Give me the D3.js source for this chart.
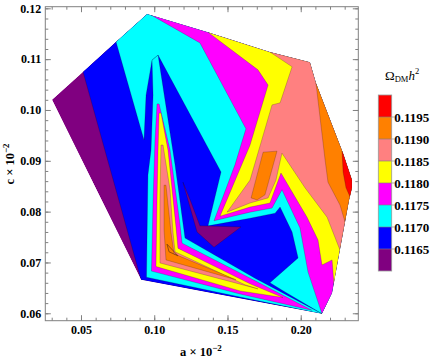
<!DOCTYPE html>
<html><head><meta charset="utf-8">
<script src="https://cdn.jsdelivr.net/npm/d3@7"></script>
<style>body{margin:0;background:#fff}svg{display:block}</style>
</head><body>
<svg id="c" width="437" height="362"></svg>
<script>
// ---- data (a, c) ----
const levels = [0.1165,0.1170,0.1175,0.1180,0.1185,0.1190,0.1195];
const levelLabels = ["0.1165","0.1170","0.1175","0.1180","0.1185","0.1190","0.1195"];
const xTicks = [0.05,0.10,0.15,0.20];
const yTicks = [0.06,0.07,0.08,0.09,0.10,0.11,0.12];

const hullRegion = [[0.0302,0.1020],[0.0514,0.1075],[0.0739,0.1134],[0.0951,0.1189],[0.1367,0.1153],[0.1790,0.1114],[0.2063,0.1094],[0.2104,0.1053],[0.2289,0.0915],[0.2350,0.0862],[0.2350,0.0847],[0.2330,0.0823],[0.2255,0.0705],[0.2214,0.0640],[0.2145,0.0599],[0.0910,0.0666]];
const regionBlue = [[0.0514,0.1075],[0.0739,0.1134],[0.0951,0.1189],[0.1367,0.1153],[0.1790,0.1114],[0.2063,0.1094],[0.2104,0.1053],[0.2289,0.0915],[0.2350,0.0862],[0.2350,0.0847],[0.2330,0.0823],[0.2255,0.0705],[0.2214,0.0640],[0.2145,0.0599],[0.0910,0.0666]];
const cyanRight = [[0.0739,0.1134],[0.0951,0.1189],[0.1367,0.1153],[0.1790,0.1114],[0.2063,0.1094],[0.2104,0.1053],[0.2289,0.0915],[0.2350,0.0862],[0.2350,0.0847],[0.2330,0.0823],[0.2255,0.0705],[0.2214,0.0640],[0.2145,0.0599],[0.1893,0.0642],[0.1790,0.0660],[0.1982,0.0709],[0.1941,0.0760],[0.1859,0.0809],[0.1825,0.0797],[0.1654,0.0787],[0.1367,0.0772],[0.1456,0.0878],[0.1026,0.1108],[0.0985,0.1098],[0.0944,0.1029],[0.0930,0.0941]];
const magentaRight = [[0.0978,0.1187],[0.1367,0.1153],[0.1790,0.1114],[0.2063,0.1094],[0.2104,0.1053],[0.2289,0.0915],[0.2350,0.0862],[0.2350,0.0847],[0.2330,0.0823],[0.2255,0.0705],[0.2214,0.0640],[0.2145,0.0599],[0.2050,0.0681],[0.1995,0.0768],[0.1872,0.0843],[0.1804,0.0807],[0.1654,0.0799],[0.1408,0.0782],[0.1551,0.0892],[0.1626,0.0963],[0.1312,0.1132]];
const yellowRight = [[0.1367,0.1153],[0.1790,0.1114],[0.2063,0.1094],[0.2104,0.1053],[0.2289,0.0915],[0.2350,0.0862],[0.2350,0.0847],[0.2330,0.0823],[0.2255,0.0705],[0.2227,0.0656],[0.2214,0.0705],[0.2145,0.0695],[0.2118,0.0744],[0.2043,0.0789],[0.1865,0.0876],[0.1790,0.0817],[0.1654,0.0809],[0.1449,0.0791],[0.1654,0.0931],[0.1777,0.1049],[0.1708,0.1079]];
const pinkRight = [[0.1790,0.1114],[0.2063,0.1094],[0.2104,0.1053],[0.2289,0.0915],[0.2350,0.0862],[0.2350,0.0847],[0.2330,0.0823],[0.2267,0.0725],[0.2180,0.0789],[0.2029,0.0847],[0.1872,0.0915],[0.1831,0.0862],[0.1777,0.0827],[0.1654,0.0817],[0.1497,0.0799],[0.1654,0.0862],[0.1804,0.1010],[0.1859,0.1014],[0.1941,0.1085]];
const orangeRight = [[0.2104,0.1053],[0.2289,0.0915],[0.2350,0.0862],[0.2350,0.0847],[0.2330,0.0823],[0.2302,0.0780],[0.2268,0.0813],[0.2186,0.0858],[0.2166,0.0902]];
const redRight = [[0.2282,0.0919],[0.2289,0.0915],[0.2350,0.0862],[0.2350,0.0847],[0.2337,0.0829],[0.2309,0.0847],[0.2289,0.0878]];
const orangeSpike = [[0.1743,0.0917],[0.1838,0.0919],[0.1756,0.0833],[0.1702,0.0823],[0.1661,0.0827]];
const purpleSpot = [[0.1196,0.0858],[0.1251,0.0819],[0.1312,0.0772],[0.1592,0.0770],[0.1408,0.0730],[0.1292,0.0760]];
const cyanLeft = [[0.0985,0.1098],[0.1026,0.1108],[0.1142,0.0892],[0.1210,0.0748],[0.1688,0.0669],[0.2145,0.0599],[0.1586,0.0632],[0.0947,0.0671],[0.0957,0.0872],[0.0978,0.0921],[0.0992,0.1029]];
const magentaLeft = [[0.1019,0.1012],[0.1033,0.1012],[0.1108,0.0921],[0.1176,0.0774],[0.1190,0.0738],[0.1688,0.0664],[0.2075,0.0606],[0.1586,0.0638],[0.0981,0.0683],[0.0992,0.0823],[0.1005,0.0941]];
const yellowLeft = [[0.1033,0.0994],[0.1046,0.0994],[0.1094,0.0921],[0.1149,0.0768],[0.1162,0.0728],[0.1654,0.0658],[0.1879,0.0631],[0.1586,0.0644],[0.1012,0.0692],[0.1019,0.0823],[0.1026,0.0921]];
const pinkLeft = [[0.1046,0.0931],[0.1060,0.0931],[0.1108,0.0843],[0.1128,0.0760],[0.1142,0.0721],[0.1620,0.0656],[0.1708,0.0648],[0.1039,0.0699],[0.1039,0.0823]];
const orangeLeft = [[0.1067,0.0852],[0.1080,0.0852],[0.1114,0.0760],[0.1135,0.0717],[0.1558,0.0666],[0.1080,0.0705],[0.1067,0.0764]];
const innerCore = [[0.1087,0.0736],[0.1101,0.0721],[0.1162,0.0713]];

// band index: 0 <0.1165 ... 7 >=0.1195
const bandColors = ["#800080","#0000ff","#00ffff","#ff00ff","#ffff00","#ff8080","#ff8000","#ff0000"];
const layers = [
  [hullRegion,0],[regionBlue,1],[cyanRight,2],[magentaRight,3],[yellowRight,4],[pinkRight,5],
  [orangeRight,6],[redRight,7],[orangeSpike,6],[purpleSpot,0],
  [cyanLeft,2],[magentaLeft,3],[yellowLeft,4],[pinkLeft,5],[orangeLeft,6]
];

// ---- drawing ----
const svg = d3.select("#c");
const x = d3.scaleLinear().domain([0.02563,0.2393]).range([45.3,358.3]);
const y = d3.scaleLinear().domain([0.05854,0.12032]).range([320.7,6.7]);
const closed = d3.line().x(d=>x(d[0])).y(d=>y(d[1])).curve(d3.curveLinearClosed);
const serif = "'Liberation Serif','Times New Roman',Times,serif";

svg.append("clipPath").attr("id","hclip").append("path").attr("d",closed(hullRegion));
const gp = svg.append("g").attr("clip-path","url(#hclip)");
layers.forEach(([poly,b],i)=>{
  gp.append("path").attr("d",closed(poly)).attr("fill",bandColors[b])
    .attr("stroke", i===0 ? "none" : "#000").attr("stroke-opacity",0.28).attr("stroke-width",0.7)
    .attr("stroke-linejoin","round");
});
gp.append("path").attr("d",closed(innerCore)).attr("fill","none").attr("stroke","#7a3a10").attr("stroke-width",0.8);

// frame & ticks
const [x0,x1]=x.range(), [y0,y1]=y.range();
const tickCol="#808080";
function styleAxis(g,showLabels){
  g.select(".domain").remove();
  g.selectAll(".tick line").attr("stroke",tickCol);
  g.selectAll("text").attr("fill","#000").style("font-family",serif).style("font-size","12px").style("font-weight","bold");
  if(!showLabels) g.selectAll("text").remove();
}
const xMinor = d3.range(0.03,0.2395,0.01);
const yMinor = d3.range(0.06,0.1205,0.002);
svg.append("g").attr("transform",`translate(0,${y0})`).call(d3.axisBottom(x).tickValues(xMinor).tickSize(-3).tickFormat("")).call(g=>styleAxis(g,false));
svg.append("g").attr("transform",`translate(0,${y0})`).call(d3.axisBottom(x).tickValues(xTicks).tickSize(-5.5).tickPadding(5).tickFormat(d3.format(".2f"))).call(g=>styleAxis(g,true));
svg.append("g").attr("transform",`translate(0,${y1})`).call(d3.axisTop(x).tickValues(xMinor).tickSize(-3).tickFormat("")).call(g=>styleAxis(g,false));
svg.append("g").attr("transform",`translate(0,${y1})`).call(d3.axisTop(x).tickValues(xTicks).tickSize(-5.5).tickFormat("")).call(g=>styleAxis(g,false));
svg.append("g").attr("transform",`translate(${x0},0)`).call(d3.axisLeft(y).tickValues(yMinor).tickSize(-3).tickFormat("")).call(g=>styleAxis(g,false));
svg.append("g").attr("transform",`translate(${x0},0)`).call(d3.axisLeft(y).tickValues(yTicks).tickSize(-5.5).tickPadding(4).tickFormat(d3.format(".2f"))).call(g=>styleAxis(g,true));
svg.append("g").attr("transform",`translate(${x1},0)`).call(d3.axisRight(y).tickValues(yMinor).tickSize(-3).tickFormat("")).call(g=>styleAxis(g,false));
svg.append("g").attr("transform",`translate(${x1},0)`).call(d3.axisRight(y).tickValues(yTicks).tickSize(-5.5).tickFormat("")).call(g=>styleAxis(g,false));
svg.append("rect").attr("x",x0).attr("y",y1).attr("width",x1-x0).attr("height",y0-y1)
  .attr("fill","none").attr("stroke",tickCol).attr("stroke-width",1);

// axis titles
const xt = svg.append("text").attr("x",201).attr("y",356).attr("text-anchor","middle")
  .style("font-family",serif).style("font-size","12.5px").style("font-weight","bold");
xt.append("tspan").text("a × 10");
xt.append("tspan").attr("dy",-5).style("font-size","9px").text("−2");
const yt = svg.append("text").attr("transform","translate(14,164) rotate(-90)").attr("text-anchor","middle")
  .style("font-family",serif).style("font-size","12.5px").style("font-weight","bold");
yt.append("tspan").text("c × 10");
yt.append("tspan").attr("dy",-5).style("font-size","9px").text("−2");

// colour bar
const cb = d3.scaleLinear().domain([0.1160,0.1200]).range([271,95]);
const cbX = 378.3, cbW = 13.4;
const cbEdges = [0.1160, ...levels, 0.1200];
const cbg = svg.append("g");
bandColors.forEach((c,i)=>{
  cbg.append("rect").attr("x",cbX).attr("y",cb(cbEdges[i+1])).attr("width",cbW)
    .attr("height",cb(cbEdges[i])-cb(cbEdges[i+1])).attr("fill",c);
});
levels.forEach((v,i)=>{
  cbg.append("line").attr("x1",cbX).attr("x2",cbX+cbW+3).attr("y1",cb(v)).attr("y2",cb(v))
    .attr("stroke",tickCol).attr("stroke-width",0.8).attr("stroke-opacity",0.8);
  cbg.append("text").attr("x",cbX+cbW+2.5).attr("y",cb(v)).attr("dy","0.35em")
    .style("font-family",serif).style("font-size","13px").style("font-weight","bold").text(levelLabels[i]);
});
cbg.append("rect").attr("x",cbX).attr("y",cb(0.1200)).attr("width",cbW).attr("height",cb(0.1160)-cb(0.1200))
  .attr("fill","none").attr("stroke","#999").attr("stroke-width",0.8);
const tt = svg.append("text").attr("x",385).attr("y",80).style("font-family",serif).style("font-size","13px");
tt.append("tspan").text("Ω");
tt.append("tspan").attr("dy",1.5).style("font-size","8.5px").text("DM");
tt.append("tspan").attr("dy",-1.5).style("font-style","italic").text("h");
tt.append("tspan").attr("dy",-6).style("font-size","8.5px").text("2");
</script>
</body></html>
